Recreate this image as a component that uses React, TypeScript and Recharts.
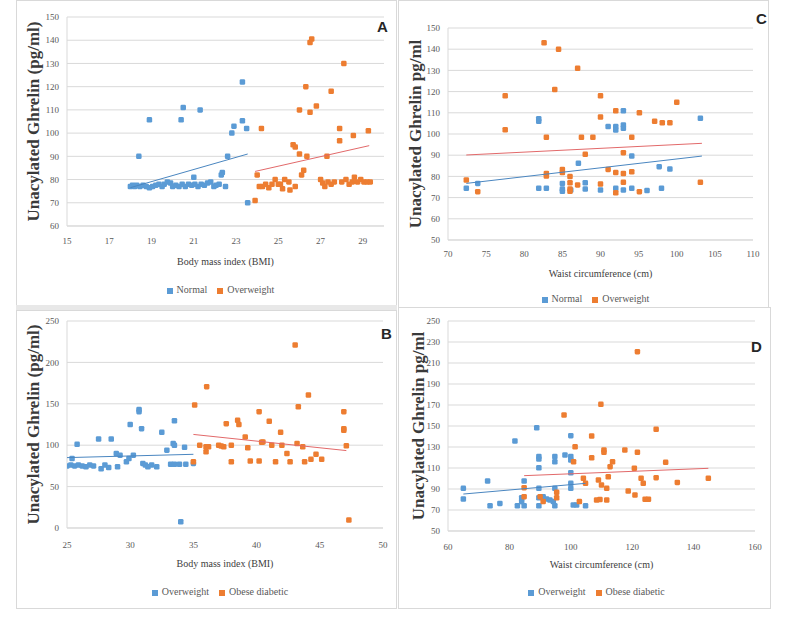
import React from 'react';
import { ScatterChart, Scatter, XAxis, YAxis, CartesianGrid, Legend } from 'recharts';

const BLUE = '#5B9BD5';
const ORANGE = '#ED7D31';
const BLUE_TREND = '#4a86c0';
const ORANGE_TREND = '#e2696a';
const FONT = '"Liberation Serif", "DejaVu Serif", serif';

// ---------- Panel A : BMI, Normal vs Overweight ----------
const aXTicks = [15, 17, 19, 21, 23, 25, 27, 29];
const aYTicks = [60, 70, 80, 90, 100, 110, 120, 130, 140, 150];
const aNormal = [
  [18.4, 90], [18.9, 105.7], [20.4, 105.7], [20.5, 111], [21.3, 110], [23.3, 122], [23.3, 105.3], [22.9, 103],
  [22.8, 100], [23.5, 102], [22.6, 90], [22.35, 83], [22.3, 82], [21.0, 81], [23.55, 70],
  [18.0, 77], [18.1, 77.5], [18.2, 77], [18.3, 77.5], [18.45, 77], [18.6, 77.5], [18.75, 77], [18.9, 76.5],
  [19.05, 77], [19.2, 77.5], [19.35, 78], [19.5, 77], [19.6, 78], [19.75, 79], [19.9, 78.5], [20.0, 77],
  [20.15, 77.5], [20.3, 77], [20.45, 78], [20.6, 77], [20.75, 78], [20.9, 77.5], [21.05, 78], [21.2, 77],
  [21.35, 78], [21.5, 77.5], [21.65, 78.5], [21.8, 79], [21.95, 77], [22.05, 77.5], [22.2, 78], [22.5, 77],
];
const aOverweight = [
  [26.58, 140.5], [26.5, 139], [28.1, 130], [26.3, 120], [27.5, 118], [26.0, 110], [26.5, 109], [26.8, 111.7],
  [24.2, 102], [27.9, 102], [27.9, 96.7], [28.55, 99], [29.26, 101], [25.7, 95], [25.8, 94], [26.0, 91],
  [26.35, 90], [27.3, 90], [24.0, 82], [26.2, 84], [26.1, 82], [23.9, 71], [25.8, 77], [25.2, 76], [25.1, 78],
  [24.1, 77], [24.25, 77], [24.4, 78], [24.55, 76.5], [24.7, 78], [24.85, 80], [25.0, 78], [25.3, 80],
  [25.5, 79], [25.55, 75.5], [27.0, 80], [27.1, 78.5], [27.2, 77], [27.35, 79], [27.5, 78], [27.65, 79],
  [28.0, 79], [28.2, 80], [28.35, 78], [28.5, 79], [28.6, 81], [28.75, 79], [28.9, 80], [29.05, 79],
  [29.2, 79], [29.35, 79],
];
const aNormalTrend = [[18.0, 76.5], [23.55, 91]];
const aOverweightTrend = [[23.9, 83.5], [29.3, 94.6]];

// ---------- Panel C : Waist, Normal vs Overweight ----------
const cXTicks = [70, 75, 80, 85, 90, 95, 100, 105, 110];
const cYTicks = [50, 60, 70, 80, 90, 100, 110, 120, 130, 140, 150];
const cNormal = [
  [72.4, 74.4], [73.9, 76.7], [81.9, 107.2], [81.9, 106], [81.9, 74.4], [82.9, 74.4], [85.0, 76.7], [85.0, 74],
  [85.0, 73], [86.1, 73.6], [87.1, 86.2], [88.0, 77], [88.0, 74], [90.0, 73.6], [91.0, 103.5], [92.0, 103.5],
  [92.0, 101.9], [93.0, 111], [93.0, 104.3], [93.0, 102.7], [92.0, 74.4], [93.0, 73.6], [94.1, 89.6],
  [94.1, 74.4], [96.1, 73.3], [97.7, 84.6], [98.0, 74.4], [99.1, 83.5], [103.1, 107.4],
];
const cOverweight = [
  [82.6, 143], [84.5, 140], [87.0, 131], [84.0, 121], [77.5, 118], [90.0, 118], [100.0, 115], [92.0, 111],
  [95.1, 110], [90.0, 108], [97.1, 106], [98.1, 105.3], [99.1, 105.3], [77.5, 102], [82.9, 98.5], [87.5, 98.5],
  [89.0, 98.5], [94.1, 98.5], [88.0, 90.4], [93.0, 91.2], [82.9, 81.4], [82.9, 80.2], [85.0, 83.3], [85.0, 81.8],
  [91.0, 83.3], [92.0, 81.8], [93.0, 81.4], [94.1, 82.2], [72.4, 78.3], [73.9, 72.8], [86.0, 79.9], [86.0, 77],
  [86.0, 74], [86.0, 73], [87.0, 76], [90.0, 76.4], [92.0, 72.3], [93.0, 77.2], [95.1, 72.8], [103.1, 77.2],
];
const cNormalTrend = [[72.4, 76.7], [103.3, 89.6]];
const cOverweightTrend = [[72.4, 90.1], [103.3, 95.6]];

// ---------- Panel B : BMI, Overweight vs Obese diabetic ----------
const bXTicks = [25, 30, 35, 40, 45, 50];
const bYTicks = [0, 50, 100, 150, 200, 250];
const bOverweight = [
  [25.8, 101], [27.5, 107.5], [28.5, 107.5], [30.0, 125], [30.7, 143], [30.7, 140.5], [30.9, 120], [32.5, 115.5],
  [33.5, 129.6], [34.3, 97.4], [33.4, 102], [33.5, 100], [32.9, 94], [34.0, 7.6], [25.4, 84], [25.0, 75],
  [25.3, 76], [25.6, 75], [25.9, 76], [26.2, 75], [26.5, 74], [26.8, 76], [27.1, 75], [27.7, 71.5], [28.0, 76],
  [29.0, 74], [28.9, 90], [29.2, 88], [29.7, 80], [29.9, 84], [30.25, 88], [31.0, 78], [31.2, 76], [31.4, 74],
  [32.1, 74], [33.2, 77], [33.5, 77], [33.9, 77], [34.4, 77], [35.0, 78], [28.3, 73], [31.7, 76],
];
const bObese = [
  [35.1, 148.5], [36.05, 170.7], [36.0, 98.2], [36.0, 92], [35.5, 100], [36.2, 98], [37.0, 100], [37.4, 98],
  [37.6, 126], [38.5, 130], [38.6, 125], [38.0, 100], [38.0, 80], [39.1, 110], [39.3, 97], [39.5, 81],
  [40.2, 81], [40.2, 140.5], [40.4, 103.5], [40.5, 104], [41.0, 129], [41.2, 100], [41.5, 80], [41.9, 115.5],
  [42.0, 100], [42.4, 90], [42.65, 80], [43.05, 221], [43.3, 146.5], [43.2, 102], [43.65, 98], [43.8, 80],
  [44.1, 160.6], [44.3, 83], [44.7, 89], [45.15, 83], [46.9, 140.5], [46.9, 118], [46.9, 120], [47.1, 99.4],
  [47.3, 9.7], [35.0, 80], [37.2, 99],
];
const bOverweightTrend = [[25.0, 85], [35.0, 89]];
const bObeseTrend = [[35.0, 113], [47.1, 93.5]];

// ---------- Panel D : Waist, Overweight vs Obese diabetic ----------
const dXTicks = [60, 80, 100, 120, 140, 160];
const dYTicks = [50, 70, 90, 110, 130, 150, 170, 190, 210, 230, 250];
const dOverweight = [
  [65.0, 90.6], [65.0, 80.5], [72.9, 97.6], [73.7, 74.1], [76.9, 76.3], [81.8, 135.7], [82.6, 74.1], [84.0, 78],
  [84.0, 81.7], [84.8, 97.6], [84.8, 74.1], [88.9, 148.4], [89.6, 121], [89.6, 118.6], [89.6, 110.3],
  [89.6, 90.6], [89.6, 81.7], [89.6, 74.1], [91.0, 82.7], [92.1, 80.5], [93.2, 79.5], [94.3, 78], [94.8, 90.6],
  [94.8, 121], [94.8, 116], [94.8, 74.1], [98.1, 122.4], [100.0, 140.8], [100.0, 121], [100.0, 117.6],
  [100.0, 105.5], [100.0, 95.4], [100.0, 90.6], [100.8, 74.8], [101.9, 74.8], [104.8, 74.1],
];
const dObese = [
  [84.8, 91.3], [84.8, 82.7], [90.0, 82.7], [91.0, 78], [95.4, 86.8], [95.4, 81.7], [97.8, 160.5], [101.4, 130.3],
  [100.9, 116], [102.8, 78], [104.1, 100.2], [104.8, 95.4], [106.8, 140.5], [106.8, 119.8], [108.4, 79.5],
  [109.0, 98.6], [110.0, 93.8], [109.8, 170.6], [110.8, 127.1], [110.8, 125], [111.7, 90.6], [111.7, 79.5],
  [112.2, 101.7], [112.8, 111.3], [113.6, 116], [117.6, 127.1], [118.7, 88.1], [120.7, 109.7], [120.9, 84.3],
  [121.7, 125], [121.7, 220.8], [122.9, 100.2], [123.6, 95.4], [124.2, 80.2], [125.3, 80.2], [127.8, 100.8],
  [127.8, 146.8], [130.9, 115.4], [134.7, 96.3], [144.8, 100.2], [109.5, 80],
];
const dOverweightTrend = [[65.0, 85.2], [104.8, 95.4]];
const dObeseTrend = [[84.8, 102.7], [144.8, 109.7]];

const toPts = (arr: number[][]) => arr.map(([x, y]) => ({ x, y }));

const marker = (color: string) => (props: any) => {
  if (props.cx == null || props.cy == null) return <g />;
  return <rect x={props.cx - 2.75} y={props.cy - 2.75} width={5.5} height={5.5} rx={1.3} fill={color} />;
};
const noMarker = () => <g />;

type PanelProps = {
  left: number; top: number; width: number; height: number;
  margin: { top: number; right: number; left: number; bottom: number };
  yW: number; xH: number; legendH: number; tickMarginX: number;
  xDomain: number[]; yDomain: number[]; xTicks: number[]; yTicks: number[];
  xTitle: string; yTitle: string; yTitleOffset: number; xTitleOffset: number;
  s1Name: string; s2Name: string; s1: number[][]; s2: number[][]; t1: number[][]; t2: number[][];
};

function Panel(p: PanelProps) {
  const plotW = p.width - p.margin.left - p.margin.right - p.yW;
  const tick = { fontFamily: FONT, fontSize: 9, fill: '#595959' };
  const order = [p.s1Name, p.s2Name];
  return (
    <div style={{ position: 'absolute', left: p.left, top: p.top, width: p.width, height: p.height }}>
      <ScatterChart width={p.width} height={p.height} margin={p.margin}>
        <CartesianGrid horizontal vertical={false} stroke="#d9d9d9" />
        <XAxis
          type="number" dataKey="x" domain={p.xDomain} ticks={p.xTicks} interval={0} height={p.xH}
          tick={tick} tickLine={false} tickMargin={p.tickMarginX} axisLine={{ stroke: '#d9d9d9' }}
          allowDataOverflow
          label={{ value: p.xTitle, position: 'insideBottom', offset: p.xTitleOffset,
            style: { fontFamily: FONT, fontSize: 10, fill: '#404040' } }}
        />
        <YAxis
          type="number" dataKey="y" domain={p.yDomain} ticks={p.yTicks} interval={0} width={p.yW}
          tick={tick} tickLine={false} axisLine={{ stroke: '#d9d9d9' }} allowDataOverflow
          label={{ value: p.yTitle, angle: -90, position: 'insideLeft', offset: p.yTitleOffset,
            style: { textAnchor: 'middle', fontFamily: FONT, fontSize: 17, fontWeight: 'bold', fill: '#3a3a3a' } }}
        />
        <Legend
          verticalAlign="bottom" align="center" iconType="square" iconSize={6} height={p.legendH}
          itemSorter={(item: any) => order.indexOf(item.value)}
          wrapperStyle={{ left: p.margin.left + p.yW, width: plotW, lineHeight: p.legendH + 'px',
            fontFamily: FONT, fontSize: 10 }}
          formatter={(v: any) => <span style={{ color: '#595959' }}>{v}</span>}
        />
        <Scatter name={p.s1Name} data={toPts(p.s1)} fill={BLUE} shape={marker(BLUE)} isAnimationActive={false} />
        <Scatter name={p.s2Name} data={toPts(p.s2)} fill={ORANGE} shape={marker(ORANGE)} isAnimationActive={false} />
        <Scatter name="t1" legendType="none" data={toPts(p.t1)} shape={noMarker}
          line={{ stroke: BLUE_TREND, strokeWidth: 1 }} isAnimationActive={false} />
        <Scatter name="t2" legendType="none" data={toPts(p.t2)} shape={noMarker}
          line={{ stroke: ORANGE_TREND, strokeWidth: 1 }} isAnimationActive={false} />
      </ScatterChart>
    </div>
  );
}

const boxStyle = (l: number, t: number, w: number, h: number): React.CSSProperties => ({
  position: 'absolute', left: l, top: t, width: w, height: h, boxSizing: 'border-box',
  border: '1px solid #d9d9d9', pointerEvents: 'none',
});
const letterStyle = (l: number, t: number): React.CSSProperties => ({
  position: 'absolute', left: l, top: t, fontFamily: '"Liberation Sans", Arial, sans-serif',
  fontWeight: 'bold', fontSize: 15, color: '#262626',
});

export default function App() {
  return (
    <div style={{ position: 'absolute', left: 0, top: 0, width: 793, height: 624, background: '#fff', overflow: 'hidden' }}>
      <div style={boxStyle(16, 0, 381, 306)} />
      <div style={{ position: 'absolute', left: 16, top: 305, width: 381, height: 5, background: '#e8e8e8' }} />
      <div style={boxStyle(16, 310, 381, 299)} />
      <div style={boxStyle(398, 0, 371, 308)} />
      <div style={boxStyle(398, 307, 373, 302)} />

      <Panel left={16} top={0} width={380} height={305}
        margin={{ top: 17, right: 12, left: 0, bottom: 0 }} yW={51} xH={49} legendH={30} tickMarginX={6}
        xDomain={[15, 30]} yDomain={[60, 150]} xTicks={aXTicks} yTicks={aYTicks}
        xTitle="Body mass index (BMI)" yTitle="Unacylated Ghrelin (pg/ml)" yTitleOffset={17} xTitleOffset={10}
        s1Name="Normal" s2Name="Overweight" s1={aNormal} s2={aOverweight} t1={aNormalTrend} t2={aOverweightTrend} />

      <Panel left={399} top={0} width={369} height={305}
        margin={{ top: 28, right: 15, left: 0, bottom: 0 }} yW={49} xH={53} legendH={12} tickMarginX={5}
        xDomain={[70, 110]} yDomain={[50, 150]} xTicks={cXTicks} yTicks={cYTicks}
        xTitle="Waist circumference (cm)" yTitle="Unacylated Ghrelin pg/ml" yTitleOffset={16} xTitleOffset={16}
        s1Name="Normal" s2Name="Overweight" s1={cNormal} s2={cOverweight} t1={cNormalTrend} t2={cOverweightTrend} />

      <Panel left={16} top={310} width={380} height={298}
        margin={{ top: 11, right: 13, left: 0, bottom: 0 }} yW={51} xH={48} legendH={32} tickMarginX={8}
        xDomain={[25, 50]} yDomain={[0, 250]} xTicks={bXTicks} yTicks={bYTicks}
        xTitle="Body mass index (BMI)" yTitle="Unacylated Ghrelin (pg/ml)" yTitleOffset={17} xTitleOffset={9}
        s1Name="Overweight" s2Name="Obese diabetic" s1={bOverweight} s2={bObese} t1={bOverweightTrend} t2={bObeseTrend} />

      <Panel left={399} top={310} width={369} height={298}
        margin={{ top: 11, right: 13, left: 0, bottom: 0 }} yW={49} xH={45} legendH={32} tickMarginX={7}
        xDomain={[60, 160]} yDomain={[50, 250]} xTicks={dXTicks} yTicks={dYTicks}
        xTitle="Waist circumference (cm)" yTitle="Unacylated Ghrelin pg/ml" yTitleOffset={19} xTitleOffset={8}
        s1Name="Overweight" s2Name="Obese diabetic" s1={dOverweight} s2={dObese} t1={dOverweightTrend} t2={dObeseTrend} />

      <div style={letterStyle(377, 18)}>A</div>
      <div style={letterStyle(756, 10)}>C</div>
      <div style={letterStyle(381, 325)}>B</div>
      <div style={letterStyle(751, 338)}>D</div>
    </div>
  );
}
